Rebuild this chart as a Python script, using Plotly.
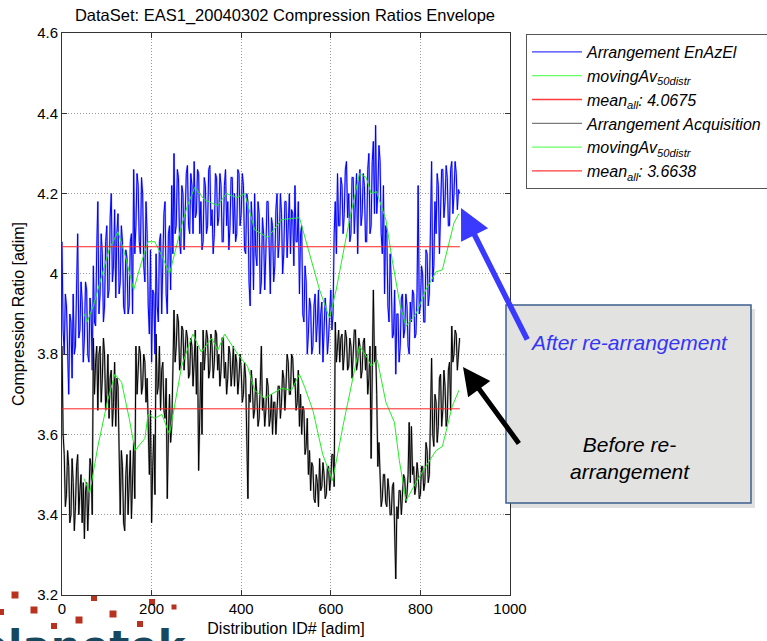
import plotly.graph_objects as go

# ---------------- data ----------------
# Each 5-unit bin of Distribution ID holds two readings (first and second half of the bin)
x_step = 5
blue_a = [
    4.08, 3.80, 3.92, 3.70, 3.88, 3.95, 3.82, 4.10, 3.86, 3.93,
    3.84, 3.96, 3.78, 3.90, 4.02, 3.87, 4.18, 3.95, 4.05, 3.92,
    4.12, 3.96, 4.20, 4.02, 3.94, 4.15, 3.98, 4.08, 3.90, 4.04,
    3.92, 4.10, 4.26, 4.12, 4.22, 4.05, 4.20, 3.98, 4.10, 3.85,
    3.78, 3.95, 4.05, 3.88, 4.10, 4.00, 4.18, 3.90, 4.12, 4.22,
    4.30, 4.12, 4.24, 4.05, 4.20, 4.15, 4.27, 4.10, 4.22, 4.28,
    4.15, 4.25, 4.18, 4.08, 4.22, 4.12, 4.27, 4.16, 4.10, 4.24,
    4.14, 4.22, 4.08, 4.26, 4.18, 4.12, 4.24, 4.20, 4.10, 4.25,
    4.15, 4.22, 4.05, 4.18, 3.92, 4.12, 4.20, 4.02, 4.15, 3.98,
    4.10, 4.05, 4.18, 3.95, 4.12, 4.02, 4.20, 4.08, 4.15, 4.05,
    4.18, 4.10, 4.05, 4.15, 4.22, 4.08, 3.95, 4.12, 3.88, 3.98,
    3.85, 3.92, 3.82, 3.95, 3.88, 3.80, 3.93, 3.86, 3.90, 3.84,
    3.96, 3.90, 4.18, 4.25, 4.12, 4.22, 4.15, 4.28, 4.20, 4.10,
    4.24, 4.18, 4.05, 4.26, 4.15, 4.22, 4.08, 4.30, 4.12, 4.33,
    4.37, 4.20, 4.28, 4.05, 3.95, 4.10, 3.88, 3.98, 3.85, 3.75,
    3.90, 3.82, 3.95, 3.86, 3.92, 3.80, 3.88, 3.95, 3.85, 4.22,
    3.92, 4.00, 3.88, 4.05, 3.95, 4.28, 4.02, 4.10, 4.22, 4.15,
    4.26, 4.18, 4.24, 4.12, 4.28, 4.20, 4.25, 4.21,
]
blue_b = [
    3.86, 3.95, 3.76, 3.90, 3.74, 3.80, 3.96, 3.84, 3.98, 3.78,
    3.98, 3.80, 3.94, 3.76, 3.88, 4.06, 3.90, 4.10, 3.88, 4.08,
    3.94, 4.14, 3.98, 4.16, 4.10, 3.95, 4.12, 3.92, 4.06, 3.90,
    4.08, 3.90, 4.05, 4.25, 4.08, 4.24, 4.02, 4.18, 3.92, 4.06,
    3.96, 3.80, 3.92, 4.08, 3.90, 4.15, 3.95, 4.10, 3.96, 4.05,
    4.10, 4.26, 4.08, 4.22, 4.06, 4.25, 4.12, 4.25, 4.10, 4.14,
    4.26, 4.10, 4.06, 4.24, 4.10, 4.26, 4.12, 4.05, 4.25, 4.12,
    4.25, 4.08, 4.22, 4.12, 4.06, 4.24, 4.10, 4.08, 4.26, 4.12,
    4.25, 4.06, 4.20, 3.98, 4.18, 3.96, 4.05, 4.18, 3.95, 4.14,
    3.96, 4.18, 4.02, 4.14, 3.98, 4.16, 4.04, 4.20, 4.00, 4.18,
    4.04, 4.20, 4.16, 4.02, 4.08, 4.18, 4.10, 3.90, 4.02, 3.80,
    3.94, 3.80, 3.92, 3.83, 3.96, 3.90, 3.78, 3.94, 3.80, 3.92,
    3.86, 4.10, 4.05, 4.12, 4.24, 4.10, 4.26, 4.14, 4.08, 4.24,
    4.10, 4.25, 4.22, 4.12, 4.25, 4.08, 4.26, 4.10, 4.28, 4.15,
    4.15, 4.32, 4.10, 4.22, 4.12, 3.92, 4.05, 3.84, 3.96, 3.90,
    3.78, 3.94, 3.84, 3.95, 3.82, 3.93, 3.96, 3.84, 3.95, 3.90,
    4.02, 3.88, 4.06, 3.92, 4.10, 3.98, 4.18, 4.25, 4.05, 4.26,
    4.14, 4.27, 4.12, 4.26, 4.15, 4.28, 4.16, 4.20,
]
black_a = [
    3.82, 3.55, 3.45, 3.52, 3.40, 3.48, 3.42, 3.55, 3.46, 3.38,
    3.34, 3.48, 3.44, 3.52, 3.84, 3.78, 3.66, 3.82, 3.74, 3.80,
    3.70, 3.64, 3.76, 3.68, 3.62, 3.72, 3.40, 3.52, 3.36, 3.55,
    3.46, 3.39, 3.58, 3.82, 3.76, 3.80, 3.72, 3.78, 3.74, 3.50,
    3.38, 3.60, 3.85, 3.72, 3.66, 3.78, 3.64, 3.44, 3.70, 3.62,
    3.91, 3.82, 3.88, 3.78, 3.86, 3.80, 3.84, 3.75, 3.82, 3.78,
    3.70, 3.51, 3.78, 3.86, 3.80, 3.84, 3.76, 3.82, 3.78, 3.85,
    3.80, 3.76, 3.84, 3.78, 3.74, 3.80, 3.76, 3.72, 3.78, 3.74,
    3.76, 3.70, 3.74, 3.44, 3.68, 3.72, 3.66, 3.70, 3.64, 3.82,
    3.69, 3.66, 3.72, 3.64, 3.60, 3.68, 3.65, 3.72, 3.68, 3.74,
    3.72, 3.78, 3.70, 3.79, 3.74, 3.68, 3.62, 3.60, 3.66, 3.57,
    3.50, 3.46, 3.52, 3.43, 3.48, 3.54, 3.47, 3.50, 3.45, 3.52,
    3.49, 3.55, 3.88, 3.82, 3.78, 3.85, 3.80, 3.84, 3.77, 3.82,
    3.80, 3.86, 3.78, 3.82, 3.76, 3.84, 3.80, 3.74, 3.54, 3.96,
    3.82, 3.52, 3.48, 3.44, 3.50, 3.42, 3.46, 3.40, 3.48, 3.24,
    3.39, 3.46, 3.44, 3.49, 3.45, 3.63, 3.62, 3.52, 3.47, 3.50,
    3.45, 3.52, 3.48, 3.56, 3.50, 3.79, 3.57, 3.68, 3.62, 3.75,
    3.66, 3.72, 3.64, 3.78, 3.87, 3.80, 3.85, 3.82,
]
black_b = [
    3.60, 3.42, 3.56, 3.38, 3.54, 3.36, 3.52, 3.40, 3.50, 3.48,
    3.46, 3.36, 3.54, 3.40, 3.70, 3.82, 3.80, 3.68, 3.84, 3.66,
    3.80, 3.74, 3.62, 3.78, 3.74, 3.58, 3.56, 3.38, 3.50, 3.40,
    3.56, 3.50, 3.44, 3.70, 3.82, 3.70, 3.80, 3.68, 3.62, 3.66,
    3.52, 3.45, 3.70, 3.82, 3.76, 3.66, 3.74, 3.60, 3.58, 3.76,
    3.78, 3.90, 3.76, 3.87, 3.76, 3.86, 3.74, 3.84, 3.72, 3.86,
    3.82, 3.66, 3.60, 3.76, 3.86, 3.74, 3.85, 3.74, 3.86, 3.76,
    3.72, 3.84, 3.74, 3.70, 3.82, 3.72, 3.82, 3.80, 3.70, 3.80,
    3.68, 3.78, 3.60, 3.70, 3.76, 3.64, 3.74, 3.62, 3.72, 3.66,
    3.62, 3.74, 3.62, 3.70, 3.68, 3.60, 3.72, 3.64, 3.76, 3.66,
    3.80, 3.70, 3.80, 3.72, 3.66, 3.76, 3.70, 3.67, 3.55, 3.64,
    3.56, 3.53, 3.44, 3.50, 3.42, 3.46, 3.53, 3.44, 3.52, 3.46,
    3.55, 3.47, 3.78, 3.86, 3.84, 3.76, 3.86, 3.76, 3.84, 3.74,
    3.86, 3.76, 3.84, 3.74, 3.83, 3.76, 3.70, 3.82, 3.72, 3.78,
    3.70, 3.58, 3.42, 3.50, 3.43, 3.49, 3.40, 3.47, 3.36, 3.42,
    3.46, 3.40, 3.50, 3.43, 3.50, 3.48, 3.50, 3.45, 3.53, 3.44,
    3.52, 3.46, 3.58, 3.48, 3.62, 3.60, 3.70, 3.58, 3.74, 3.62,
    3.76, 3.62, 3.76, 3.66, 3.78, 3.86, 3.76, 3.84,
]
blue_ma_x = [50, 56, 70, 85, 105, 125, 140, 160, 175, 192, 207, 225, 240, 267, 280,
             296, 318, 347, 367, 390, 408, 430, 459, 490, 530, 550, 575, 597, 612,
             641, 664, 679, 690, 702, 723, 737, 755, 768, 790, 812, 835, 849, 875, 886]
blue_ma_y = [3.90, 3.88, 3.92, 3.98, 4.06, 4.105, 4.05, 3.96, 4.02, 4.08, 4.08, 4.04,
             4.00, 4.12, 4.17, 4.215, 4.185, 4.17, 4.20, 4.19, 4.20, 4.11, 4.09, 4.135,
             4.14, 4.06, 3.96, 3.89, 3.96, 4.13, 4.25, 4.24, 4.20, 4.205, 4.135, 4.035,
             3.92, 3.87, 3.90, 3.96, 4.005, 4.01, 4.127, 4.15]
black_ma_x = [49, 62, 80, 102, 118, 133, 150, 163, 185, 192, 207, 223, 240, 267, 292,
              311, 334, 348, 363, 392, 414, 430, 452, 490, 512, 530, 541, 560, 582,
              604, 627, 649, 664, 682, 690, 704, 723, 742, 753, 768, 790, 812, 835,
              849, 871, 886]
black_ma_y = [3.49, 3.455, 3.57, 3.685, 3.75, 3.73, 3.64, 3.56, 3.59, 3.65, 3.64, 3.65,
              3.60, 3.77, 3.85, 3.805, 3.84, 3.81, 3.85, 3.80, 3.77, 3.71, 3.69, 3.715,
              3.71, 3.75, 3.72, 3.66, 3.55, 3.485, 3.62, 3.735, 3.82, 3.79, 3.77, 3.785,
              3.68, 3.63, 3.535, 3.435, 3.48, 3.52, 3.56, 3.57, 3.67, 3.71]
mean_blue = 4.0675
mean_black = 3.6638
mean_x = [0, 888]
y_ticks = [3.2, 3.4, 3.6, 3.8, 4.0, 4.2, 4.4, 4.6]
y_tick_text = ["3.2", "3.4", "3.6", "3.8", "4", "4.2", "4.4", "4.6"]
x_ticks = [0, 200, 400, 600, 800, 1000]


def interleave(a, b):
    xs, ys = [], []
    for k, (va, vb) in enumerate(zip(a, b)):
        xs += [k * x_step, k * x_step + x_step / 2]
        ys += [va, vb]
    return xs, ys


bx, by = interleave(blue_a, blue_b)
kx, ky = interleave(black_a, black_b)

# ---------------- geometry helpers (pixel -> paper) ----------------
L, R, T, B = 62, 510, 33, 595
W, H = 767, 641
def px(p):
    return (p - L) / (R - L)
def py(p):
    return (B - p) / (B - T)

FONT = "Liberation Sans, Arial, Helvetica, sans-serif"
fig = go.Figure()

fig.add_trace(go.Scatter(x=bx, y=by, mode="lines", showlegend=False, hoverinfo="skip",
                         line=dict(color="rgba(120,120,255,0.5)", width=2)))
fig.add_trace(go.Scatter(x=bx, y=by, mode="lines", showlegend=False,
                         line=dict(color="#0000ff", width=1)))
fig.add_trace(go.Scatter(x=blue_ma_x, y=blue_ma_y, mode="lines", showlegend=False,
                         line=dict(color="#22ee22", width=1)))
fig.add_trace(go.Scatter(x=mean_x, y=[mean_blue, mean_blue], mode="lines", showlegend=False,
                         line=dict(color="#ff2020", width=1)))
fig.add_trace(go.Scatter(x=kx, y=ky, mode="lines", showlegend=False, hoverinfo="skip",
                         line=dict(color="rgba(120,120,120,0.55)", width=2)))
fig.add_trace(go.Scatter(x=kx, y=ky, mode="lines", showlegend=False,
                         line=dict(color="#000000", width=1)))
fig.add_trace(go.Scatter(x=black_ma_x, y=black_ma_y, mode="lines", showlegend=False,
                         line=dict(color="#22ee22", width=1)))
fig.add_trace(go.Scatter(x=mean_x, y=[mean_black, mean_black], mode="lines", showlegend=False,
                         line=dict(color="#ff2020", width=1)))

legend_items = [
    ("<i>Arrangement EnAzEl</i>", "#3b3bff"),
    ("<i>movingAv<sub>50distr</sub></i>", "#66ff66"),
    ("<i>mean<sub>all</sub>: 4.0675</i>", "#ff3a3a"),
    ("<i>Arrangement Acquisition</i>", "#7a7a7a"),
    ("<i>movingAv<sub>50distr</sub></i>", "#66ff66"),
    ("<i>mean<sub>all</sub>: 3.6638</i>", "#ff3a3a"),
]
for name, col in legend_items:
    fig.add_trace(go.Scatter(x=[None], y=[None], mode="lines", name=name,
                             line=dict(color=col, width=1.3)))

shapes = []
shapes.append(dict(type="rect", xref="paper", yref="paper", layer="above",
                   x0=px(510), x1=px(755), y0=py(508), y1=py(309),
                   fillcolor="rgba(0,0,0,0.12)", line=dict(width=0)))
shapes.append(dict(type="rect", xref="paper", yref="paper", layer="above",
                   x0=px(506), x1=px(751), y0=py(503), y1=py(305),
                   fillcolor="#e2e2e0", line=dict(color="#3d5f8f", width=1.5)))
squares = [(15, 595, 7), (1, 612, 6), (34, 610, 7), (94, 598, 6), (79, 620, 7),
           (113, 614, 7), (54, 626, 6), (152, 602, 6), (174, 607, 5), (140, 624, 6)]
for cx, cy, s in squares:
    shapes.append(dict(type="rect", xref="paper", yref="paper", layer="below",
                       x0=px(cx - s / 2), x1=px(cx + s / 2), y0=py(cy + s / 2), y1=py(cy - s / 2),
                       fillcolor="#b8321f", line=dict(width=0)))

annotations = [
    dict(xref="paper", yref="paper", x=px(461), y=py(208), ax=67, ay=133,
         text="", showarrow=True, arrowhead=2, arrowsize=1.1, arrowwidth=5.5,
         arrowcolor="#3a3aff", standoff=0),
    dict(xref="paper", yref="paper", x=px(463), y=py(367), ax=57, ay=78,
         text="", showarrow=True, arrowhead=2, arrowsize=1.1, arrowwidth=5,
         arrowcolor="#000000", standoff=0),
    dict(xref="paper", yref="paper", x=px(629), y=py(342), xanchor="center", yanchor="middle",
         text="<i>After re-arrangement</i>", showarrow=False,
         font=dict(family=FONT, size=21, color="#3535f5")),
    dict(xref="paper", yref="paper", x=px(630), y=py(458), xanchor="center", yanchor="middle",
         text="<i>Before re-<br>arrangement</i>", showarrow=False,
         font=dict(family=FONT, size=21, color="#000000")),
    dict(xref="paper", yref="paper", x=px(-24), y=py(620), xanchor="left", yanchor="top",
         text="<b>planetek</b>", showarrow=False,
         font=dict(family="DejaVu Sans, sans-serif", size=42, color="#17485f")),
]

fig.update_layout(
    width=W, height=H,
    margin=dict(l=L, r=W - R, t=T, b=H - B, autoexpand=False),
    paper_bgcolor="white", plot_bgcolor="white",
    font=dict(family=FONT, size=15, color="black"),
    title=dict(text="DataSet: EAS1_20040302 Compression Ratios Envelope",
               x=px(285), xref="paper", xanchor="center", y=1 - 15 / H, yanchor="middle",
               font=dict(family=FONT, size=16.5, color="black")),
    showlegend=True,
    legend=dict(x=px(526), y=py(34), xanchor="left", yanchor="top",
                bgcolor="white", bordercolor="#555", borderwidth=1,
                font=dict(family=FONT, size=16, color="black"),
                tracegroupgap=0, itemwidth=50),
    shapes=shapes, annotations=annotations,
)
axis_common = dict(showline=True, linecolor="#333", linewidth=1, mirror="ticks",
                   ticks="inside", ticklen=5, tickcolor="#333",
                   showgrid=True, gridcolor="#9a9a9a", griddash="1px,2px", gridwidth=1,
                   zeroline=False, tickfont=dict(family=FONT, size=15, color="black"))
fig.update_xaxes(range=[0, 1000], tickvals=x_ticks, **axis_common,
                 title=dict(text="Distribution ID# [adim]", standoff=6,
                            font=dict(family=FONT, size=16)))
fig.update_yaxes(range=[3.2, 4.6], tickvals=y_ticks, ticktext=y_tick_text, **axis_common,
                 title=dict(text="Compression Ratio [adim]", standoff=8,
                            font=dict(family=FONT, size=16)))

fig.write_html("out.html")
